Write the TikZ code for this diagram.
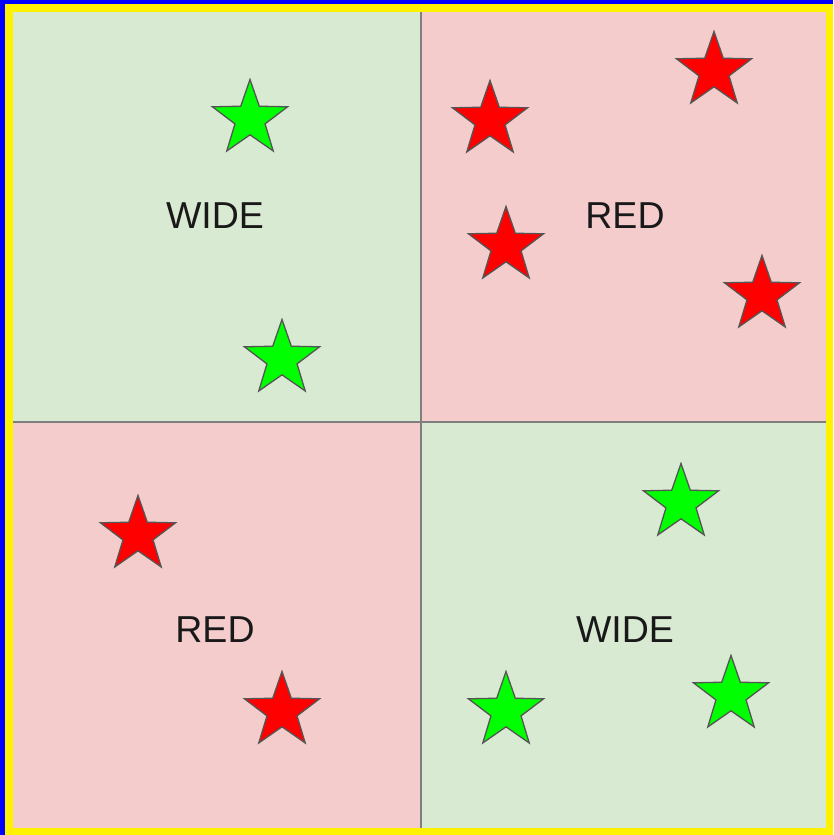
\documentclass[tikz,border=0pt]{standalone}
\usepackage{fontspec}
\setmainfont{Liberation Sans}
\usetikzlibrary{shapes.geometric}

\definecolor{panelgreen}{HTML}{D9EAD3}
\definecolor{panelred}{HTML}{F4CCCC}
\definecolor{stargreen}{HTML}{00FF00}
\definecolor{starred}{HTML}{FF0000}
\definecolor{stargray}{HTML}{555555}
\definecolor{divgray}{HTML}{7F7F7F}

\tikzset{
    starshape/.style={star, star points=5, star point ratio=2.5,
        minimum size=79pt, inner sep=0pt, draw=stargray, line width=1.3pt},
    greenstar/.style={starshape, fill=stargreen},
    redstar/.style={starshape, fill=starred},
    quadlabel/.style={font=\fontsize{37.5}{40}\selectfont, text=black!90}
}

\begin{document}
\begin{tikzpicture}[x=1pt, y=-1pt]
    % --- Frame ---
    \fill[blue] (0,0) rectangle (833,835);
    \fill[yellow] (5,4) rectangle (833,835);
    \useasboundingbox (0,0) rectangle (833,835);

    % --- Quadrants ---
    \fill[panelgreen] (13,12) rectangle (421,422);
    \fill[panelred] (421,12) rectangle (826,422);
    \fill[panelred] (13,422) rectangle (421,828);
    \fill[panelgreen] (421,422) rectangle (826,828);

    % dividers
    \draw[divgray, line width=1.2pt] (421,12) -- (421,828);
    \draw[divgray, line width=1.2pt] (13,422) -- (826,422);

    % --- Labels ---
    \node[quadlabel] (wideTL) at (215,216) {WIDE};
    \node[quadlabel] (redTR) at (625,216) {RED};
    \node[quadlabel] (redBL) at (215,630) {RED};
    \node[quadlabel] (wideBR) at (625,630) {WIDE};

    % --- Green stars ---
    \foreach \x/\y [count=\i] in {250/119, 282/359, 681/503, 506/711, 731/695} {
        \node[greenstar] (g\i) at (\x,\y) {};
    }

    % --- Red stars ---
    \foreach \x/\y [count=\i] in {490/120, 714/71, 506/246, 762/295, 138/535, 282/711} {
        \node[redstar] (r\i) at (\x,\y) {};
    }
\end{tikzpicture}
\end{document}
